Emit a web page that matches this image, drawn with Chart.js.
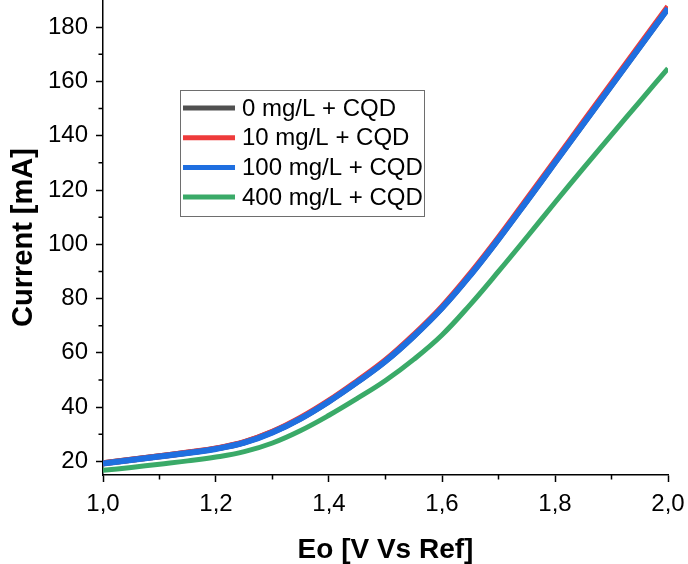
<!DOCTYPE html>
<html>
<head>
<meta charset="utf-8">
<script src="https://cdn.jsdelivr.net/npm/chart.js@4.4.1/dist/chart.umd.min.js"></script>
<style>
  html, body { margin: 0; padding: 0; background: #fff; }
  #wrap { width: 688px; height: 564px; }
</style>
</head>
<body>
<div id="wrap"><canvas id="polChart" width="688" height="564"></canvas></div>
<script>
// potential values (V vs Ref)
const potentials = [1.00, 1.05, 1.10, 1.15, 1.20, 1.25, 1.30, 1.35, 1.40, 1.45, 1.50,
                    1.55, 1.60, 1.65, 1.70, 1.75, 1.80, 1.85, 1.90, 1.95, 2.00];

// current in mA
const cur0   = [19.3, 20.6, 21.9, 23.2, 24.7, 27.0, 30.8, 35.9, 42.2, 49.3, 57.0,
                66.2, 76.6, 88.7, 102.0, 116.0, 130.2, 144.4, 158.6, 172.8, 187.0];
const cur10  = [19.3, 20.6, 21.9, 23.3, 24.8, 27.1, 30.9, 36.1, 42.4, 49.6, 57.3,
                66.6, 77.0, 89.2, 102.5, 116.6, 130.8, 145.0, 159.2, 173.4, 187.6];
const cur100 = [19.2, 20.5, 21.8, 23.1, 24.6, 26.9, 30.7, 35.8, 42.1, 49.2, 56.9,
                66.1, 76.5, 88.6, 101.9, 115.9, 130.1, 144.3, 158.5, 172.7, 186.9];
const cur400 = [16.7, 17.8, 19.0, 20.2, 21.6, 23.6, 26.8, 31.4, 37.0, 43.2, 49.8,
                57.6, 66.6, 77.8, 90.0, 102.6, 115.4, 128.0, 140.3, 152.6, 164.8];

const seriesLabels = ['0 mg/L + CQD', '10 mg/L + CQD', '100 mg/L + CQD', '400 mg/L + CQD'];
const seriesColors = ['#505050', '#ee3b3b', '#1f6fe0', '#3aaa68'];
const seriesData = [cur0, cur10, cur100, cur400];
const drawOrder = [3, 2, 1, 0]; // lower = drawn on top

const xMajorTicks = [1.0, 1.2, 1.4, 1.6, 1.8, 2.0];
const xMinorTicks = [1.1, 1.3, 1.5, 1.7, 1.9];
const yMajorTicks = [20, 40, 60, 80, 100, 120, 140, 160, 180];
const yMinorTicks = [30, 50, 70, 90, 110, 130, 150, 170];

const FONT = '"Liberation Sans", Arial, sans-serif';

function toPoints(ys) {
    return potentials.map((x, i) => ({ x: x, y: ys[i] }));
}

// short minor ticks on both axes
const minorTicks = {
    id: 'minorTicks',
    afterDraw(chart) {
        const ctx = chart.ctx;
        const xs = chart.scales.x, ys = chart.scales.y;
        const area = chart.chartArea;
        ctx.save();
        ctx.strokeStyle = '#000';
        ctx.lineWidth = 1.5;
        ctx.beginPath();
        xMinorTicks.forEach(v => {
            const px = xs.getPixelForValue(v);
            ctx.moveTo(px, area.bottom);
            ctx.lineTo(px, area.bottom + 4.5);
        });
        yMinorTicks.forEach(v => {
            const py = ys.getPixelForValue(v);
            ctx.moveTo(area.left, py);
            ctx.lineTo(area.left - 4.5, py);
        });
        ctx.stroke();
        ctx.restore();
    }
};

// boxed legend inside the plot
const boxLegend = {
    id: 'boxLegend',
    afterDraw(chart) {
        const ctx = chart.ctx;
        const a = chart.chartArea;
        const bx = a.left + 77, by = a.top + 90;
        const bw = 244, bh = 126;
        ctx.save();
        ctx.fillStyle = '#fff';
        ctx.fillRect(bx, by, bw, bh);
        ctx.strokeStyle = '#6e6e6e';
        ctx.lineWidth = 1;
        ctx.strokeRect(bx + 0.5, by + 0.5, bw, bh);
        ctx.font = '24px ' + FONT;
        ctx.textBaseline = 'middle';
        chart.data.datasets.forEach((ds, i) => {
            const cy = by + 18 + i * 29.7;
            ctx.strokeStyle = ds.borderColor;
            ctx.lineWidth = 5;
            ctx.beginPath();
            ctx.moveTo(bx + 3, cy);
            ctx.lineTo(bx + 55, cy);
            ctx.stroke();
            ctx.fillStyle = '#000';
            ctx.fillText(ds.label, bx + 62, cy + 1);
        });
        ctx.restore();
    }
};

const ctx = document.getElementById('polChart').getContext('2d');
const polChart = new Chart(ctx, {
    type: 'line',
    data: {
        datasets: seriesData.map((d, i) => ({
            label: seriesLabels[i],
            data: toPoints(d),
            borderColor: seriesColors[i],
            borderWidth: i === 3 ? 5 : 6,
            pointRadius: 0,
            fill: false,
            tension: 0.4,
            order: drawOrder[i]
        }))
    },
    options: {
        responsive: false,
        animation: false,
        layout: { padding: { left: 0, right: 20, top: 0, bottom: 0 } },
        plugins: {
            legend: { display: false },
            tooltip: { enabled: false }
        },
        scales: {
            x: {
                type: 'linear',
                min: 1.0,
                max: 2.0,
                border: { color: '#000', width: 1.5 },
                grid: { drawOnChartArea: false, drawTicks: true, tickLength: 7, tickColor: '#000', tickWidth: 1.5 },
                ticks: {
                    padding: 8,
                    color: '#000',
                    font: { family: FONT, size: 24 },
                    maxRotation: 0,
                    callback: v => v.toFixed(1).replace('.', ',')
                },
                afterBuildTicks(scale) {
                    scale.ticks = xMajorTicks.map(v => ({ value: v }));
                },
                title: {
                    display: true,
                    text: 'Eo [V Vs Ref]',
                    color: '#000',
                    font: { family: FONT, size: 28, weight: 'bold', lineHeight: 1 },
                    padding: { top: 0, bottom: 0 }
                },
                afterFit(scale) {
                    scale.height = 89;
                    scale.paddingLeft = 0;
                    scale.paddingRight = 0;
                }
            },
            y: {
                min: 15,
                max: 190,
                border: { color: '#000', width: 1.5 },
                grid: { drawOnChartArea: false, drawTicks: true, tickLength: 7, tickColor: '#000', tickWidth: 1.5 },
                ticks: {
                    padding: 8,
                    color: '#000',
                    font: { family: FONT, size: 24 }
                },
                afterBuildTicks(scale) {
                    scale.ticks = yMajorTicks.map(v => ({ value: v }));
                },
                title: {
                    display: true,
                    text: 'Current [mA]',
                    color: '#000',
                    font: { family: FONT, size: 29, weight: 'bold', lineHeight: 1 },
                    padding: { top: 9, bottom: 0 }
                },
                afterFit(scale) {
                    scale.width = 103;
                    scale.paddingTop = 0;
                    scale.paddingBottom = 0;
                }
            }
        }
    },
    plugins: [minorTicks, boxLegend]
});
</script>
</body>
</html>
